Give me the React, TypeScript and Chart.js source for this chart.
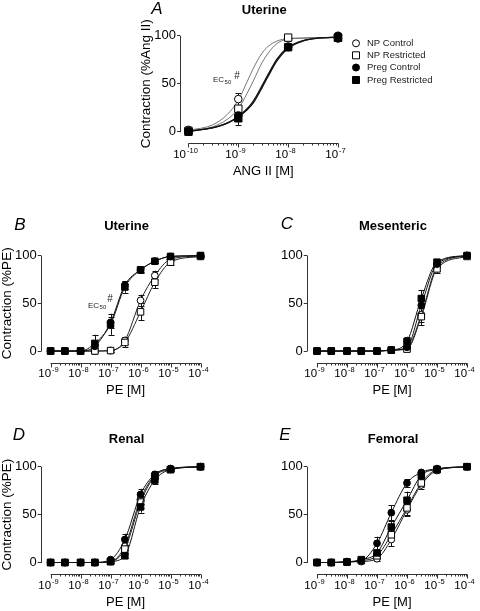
import React, { useEffect, useRef } from "react";
import { Chart, registerables } from "chart.js";
Chart.register(...registerables);

const W = 480;
const H = 611;
const FONT = '"Liberation Sans", Arial, Helvetica, sans-serif';

// ---------- data ----------
const SERIES_NAMES = ["NP Control", "NP Restricted", "Preg Control", "Preg Restricted"];
const ANG_CONC = [1e-10, 1e-9, 1e-8, 1e-7];
const PE_CONC = [1e-9, 3e-9, 1e-8, 3e-8, 1e-7, 3e-7, 1e-6, 3e-6, 1e-5, 1e-4];
const Y_TICKS = [0, 50, 100];

// Panel A - Uterine, Ang II (means and SEM)
const A_NP_CONTROL = [2, 34, 97, 97];
const A_NP_CONTROL_ERR = [1.5, 6, 1, 1.5];
const A_NP_RESTRICTED = [1, 24, 98, 98];
const A_NP_RESTRICTED_ERR = [1, 4, 1, 1];
const A_PREG_CONTROL = [0.5, 17, 88, 100];
const A_PREG_CONTROL_ERR = [1, 5, 2, 1];
const A_PREG_RESTRICTED = [0, 14, 88, 98];
const A_PREG_RESTRICTED_ERR = [1, 7, 3, 1];

// Panel A fitted curves
const A_CURVE_CONC = [1e-10, 3e-10, 6e-10, 1e-9, 1.5e-9, 2e-9, 3e-9, 4e-9, 6e-9, 1e-8, 2e-8, 4e-8, 1e-7];
const A_CURVE_NP_CONTROL = [1.5, 7, 18, 33, 52, 66, 82, 89, 94.5, 97, 97.5, 98, 98];
const A_CURVE_NP_RESTRICTED = [1, 5, 13, 24, 40, 53, 72, 82, 92, 96.5, 97.5, 98, 98];
const A_CURVE_PREG_CONTROL = [0.5, 4, 9, 16, 24, 32, 48, 60, 76, 88, 95, 97.5, 98.5];
const A_CURVE_PREG_RESTRICTED = [0.5, 4, 9, 15.5, 23, 30, 46, 58, 74, 87, 94.5, 97.5, 98.5];

// Panel B - Uterine, PE
const B_NP_CONTROL = [0, 0, 0, 0, 0.5, 11, 53, 79, 96, 99.5];
const B_NP_CONTROL_ERR = [0, 0, 0, 0.5, 1, 4, 6, 5, 2, 1];
const B_NP_RESTRICTED = [0, 0, 0, 0, 0.5, 9, 41, 72, 93, 99];
const B_NP_RESTRICTED_ERR = [0, 0, 0, 0.5, 1, 5, 9, 6, 3, 1];
const B_PREG_CONTROL = [0, 0, 0, 5, 30, 69, 85, 94, 99, 99.5];
const B_PREG_CONTROL_ERR = [0, 0, 0, 2, 6, 4, 2, 2, 1, 0.5];
const B_PREG_RESTRICTED = [0, 0, 0, 8, 28, 67, 85, 94, 99, 100];
const B_PREG_RESTRICTED_ERR = [0, 0, 0, 9, 11, 6, 3, 2, 1, 0.5];

// Panel C - Mesenteric
const C_NP_CONTROL = [0, 0, 0, 0, 0, 1, 3, 38, 88, 100];
const C_NP_CONTROL_ERR = [0, 0, 0, 0, 0, 0.5, 2, 8, 3, 0.5];
const C_NP_RESTRICTED = [0, 0, 0, 0, 0, 1, 2, 36, 86, 99];
const C_NP_RESTRICTED_ERR = [0, 0, 0, 0, 0, 0.5, 2, 9, 4, 0.5];
const C_PREG_CONTROL = [0, 0, 0, 0, 0, 1, 4, 48, 91, 100];
const C_PREG_CONTROL_ERR = [0, 0, 0, 0, 0, 0.5, 3, 8, 3, 0.5];
const C_PREG_RESTRICTED = [0, 0, 0, 0, 0, 1, 10, 55, 93, 100];
const C_PREG_RESTRICTED_ERR = [0, 0, 0, 0, 0, 0.5, 5, 9, 2, 0.5];

// Panel D - Renal
const D_NP_CONTROL = [0, 0, 0, 0, 1, 17, 66, 91, 98, 100];
const D_NP_CONTROL_ERR = [0, 0, 0, 0, 1, 4, 5, 3, 1, 0.5];
const D_NP_RESTRICTED = [0, 0, 0, 0, 1, 14, 63, 90, 97, 100];
const D_NP_RESTRICTED_ERR = [0, 0, 0, 0, 1, 4, 6, 3, 1, 0.5];
const D_PREG_CONTROL = [0, 0, 0, 0, 3, 24, 71, 92, 98, 100];
const D_PREG_CONTROL_ERR = [0, 0, 0, 0, 1.5, 6, 6, 3, 1, 0.5];
const D_PREG_RESTRICTED = [0, 0, 0, 0, 1, 7, 58, 86, 97, 100];
const D_PREG_RESTRICTED_ERR = [0, 0, 0, 0, 1, 2, 6, 4, 1, 0.5];

// Panel E - Femoral
const E_NP_CONTROL = [0, 0, 0.5, 1, 4, 24, 55, 81, 96, 100];
const E_NP_CONTROL_ERR = [0, 0, 0.5, 0.5, 2, 7, 6, 4, 2, 0.5];
const E_NP_RESTRICTED = [0, 0, 0.5, 2, 7, 29, 57, 83, 97, 100];
const E_NP_RESTRICTED_ERR = [0, 0, 0.5, 1, 3, 6, 7, 4, 2, 0.5];
const E_PREG_CONTROL = [0, 0, 1, 2, 20, 52, 83, 94, 98, 100];
const E_PREG_CONTROL_ERR = [0, 0, 0.5, 1, 7, 8, 4, 2, 1, 0.5];
const E_PREG_RESTRICTED = [0, 0, 0.5, 3, 10, 37, 65, 91, 97, 100];
const E_PREG_RESTRICTED_ERR = [0, 0, 0.5, 1, 3, 6, 9, 3, 1, 0.5];

// ---------- panel layout ----------
type Panel = {
  letter: string;
  title: string;
  conc: number[];
  values: number[][];
  errs: number[][];
  curveConc?: number[];
  curves?: number[][];
  left: number; right: number; top: number; bottom: number;
  xmin: number; firstDecade: number; lastDecade: number;
  letterX: number; letterY: number; titleY: number;
  yLabel?: string; yLabelX?: number;
  xLabel: string;
  ec50?: { x: number; y: number; hx: number; hy: number };
  legend?: { x: number; tx: number; ys: number[] };
  big?: boolean;
  curveColors: string[];
  curveWidths: number[];
};

const PANELS: Panel[] = [
  {
    letter: "A", title: "Uterine", conc: ANG_CONC,
    values: [A_NP_CONTROL, A_NP_RESTRICTED, A_PREG_CONTROL, A_PREG_RESTRICTED],
    errs: [A_NP_CONTROL_ERR, A_NP_RESTRICTED_ERR, A_PREG_CONTROL_ERR, A_PREG_RESTRICTED_ERR],
    curveConc: A_CURVE_CONC,
    curves: [A_CURVE_NP_CONTROL, A_CURVE_NP_RESTRICTED, A_CURVE_PREG_CONTROL, A_CURVE_PREG_RESTRICTED],
    left: 180, right: 338, top: 35.7, bottom: 143.3,
    xmin: Math.pow(10, -10.17), firstDecade: -10, lastDecade: -7,
    letterX: 157, letterY: 9.5, titleY: 10,
    yLabel: "Contraction (%Ang II)", yLabelX: 146,
    xLabel: "ANG II [M]",
    ec50: { x: 213, y: 80, hx: 237, hy: 76 },
    legend: { x: 356, tx: 367, ys: [43.3, 55.3, 67.5, 80] },
    big: true,
    curveColors: ["#666", "#666", "#111", "#111"],
    curveWidths: [0.9, 0.9, 1.3, 1.3],
  },
  {
    letter: "B", title: "Uterine", conc: PE_CONC,
    values: [B_NP_CONTROL, B_NP_RESTRICTED, B_PREG_CONTROL, B_PREG_RESTRICTED],
    errs: [B_NP_CONTROL_ERR, B_NP_RESTRICTED_ERR, B_PREG_CONTROL_ERR, B_PREG_RESTRICTED_ERR],
    left: 40.7, right: 200.5, top: 255.5, bottom: 362.5,
    xmin: Math.pow(10, -9.33), firstDecade: -9, lastDecade: -4,
    letterX: 20, letterY: 225.7, titleY: 226.7,
    yLabel: "Contraction (%PE)", yLabelX: 7,
    xLabel: "PE [M]",
    ec50: { x: 88, y: 305.5, hx: 110, hy: 299 },
    curveColors: ["#222", "#222", "#111", "#111"],
    curveWidths: [1, 1, 1, 1],
  },
  {
    letter: "C", title: "Mesenteric", conc: PE_CONC,
    values: [C_NP_CONTROL, C_NP_RESTRICTED, C_PREG_CONTROL, C_PREG_RESTRICTED],
    errs: [C_NP_CONTROL_ERR, C_NP_RESTRICTED_ERR, C_PREG_CONTROL_ERR, C_PREG_RESTRICTED_ERR],
    left: 306.7, right: 467, top: 255.5, bottom: 362.5,
    xmin: Math.pow(10, -9.343), firstDecade: -9, lastDecade: -4,
    letterX: 287, letterY: 224.5, titleY: 226.7,
    xLabel: "PE [M]",
    curveColors: ["#222", "#222", "#111", "#111"],
    curveWidths: [1, 1, 1, 1],
  },
  {
    letter: "D", title: "Renal", conc: PE_CONC,
    values: [D_NP_CONTROL, D_NP_RESTRICTED, D_PREG_CONTROL, D_PREG_RESTRICTED],
    errs: [D_NP_CONTROL_ERR, D_NP_RESTRICTED_ERR, D_PREG_CONTROL_ERR, D_PREG_RESTRICTED_ERR],
    left: 40.7, right: 200.5, top: 466.7, bottom: 574,
    xmin: Math.pow(10, -9.33), firstDecade: -9, lastDecade: -4,
    letterX: 19, letterY: 435.5, titleY: 439.3,
    yLabel: "Contraction (%PE)", yLabelX: 7,
    xLabel: "PE [M]",
    curveColors: ["#222", "#222", "#111", "#111"],
    curveWidths: [1, 1, 1, 1],
  },
  {
    letter: "E", title: "Femoral", conc: PE_CONC,
    values: [E_NP_CONTROL, E_NP_RESTRICTED, E_PREG_CONTROL, E_PREG_RESTRICTED],
    errs: [E_NP_CONTROL_ERR, E_NP_RESTRICTED_ERR, E_PREG_CONTROL_ERR, E_PREG_RESTRICTED_ERR],
    left: 306.7, right: 467, top: 466.7, bottom: 574,
    xmin: Math.pow(10, -9.343), firstDecade: -9, lastDecade: -4,
    letterX: 285, letterY: 435.5, titleY: 439.3,
    xLabel: "PE [M]",
    curveColors: ["#222", "#222", "#111", "#111"],
    curveWidths: [1, 1, 1, 1],
  },
];

const POINT_STYLES = ["circle", "rect", "circle", "rect"];
const POINT_FILLS = ["#ffffff", "#ffffff", "#000000", "#000000"];
const Y_AXIS_W = 40;
const X_AXIS_H = 30;
const YMIN = -12;

function drawMarker(ctx: CanvasRenderingContext2D, style: string, fill: string, x: number, y: number, size: number) {
  ctx.save();
  ctx.fillStyle = fill;
  ctx.strokeStyle = "#000";
  ctx.lineWidth = 1;
  ctx.beginPath();
  if (style === "circle") ctx.arc(x, y, size / 2, 0, Math.PI * 2);
  else ctx.rect(x - size / 2, y - size / 2, size, size);
  ctx.fill();
  ctx.stroke();
  ctx.restore();
}

function makePlugin(p: Panel) {
  return {
    id: "panelDecor" + p.letter,
    beforeDatasetsDraw(chart: any) {
      const ctx: CanvasRenderingContext2D = chart.ctx;
      const xs = chart.scales.x;
      const ys = chart.scales.y;
      ctx.save();
      ctx.strokeStyle = "#111";
      ctx.lineWidth = 1;
      p.values.forEach((vals, si) => {
        vals.forEach((v, j) => {
          const e = p.errs[si][j];
          if (!e || e < 1) return;
          const x = Math.round(xs.getPixelForValue(p.conc[j])) + 0.5;
          const y1 = ys.getPixelForValue(v + e);
          const y2 = ys.getPixelForValue(v - e);
          ctx.beginPath();
          ctx.moveTo(x, y1);
          ctx.lineTo(x, y2);
          ctx.moveTo(x - 3, Math.round(y1) + 0.5);
          ctx.lineTo(x + 3, Math.round(y1) + 0.5);
          ctx.moveTo(x - 3, Math.round(y2) + 0.5);
          ctx.lineTo(x + 3, Math.round(y2) + 0.5);
          ctx.stroke();
        });
      });
      ctx.restore();
    },
    afterDraw(chart: any) {
      const ctx: CanvasRenderingContext2D = chart.ctx;
      const xs = chart.scales.x;
      const ys = chart.scales.y;
      const area = chart.chartArea;
      ctx.save();
      ctx.strokeStyle = "#333";
      ctx.lineWidth = 1;
      // y axis line 0..100
      const ax = Math.round(area.left) + 0.5;
      ctx.beginPath();
      ctx.moveTo(ax, ys.getPixelForValue(100));
      ctx.lineTo(ax, ys.getPixelForValue(0) + 0.5);
      ctx.stroke();
      // x axis line
      const by = Math.round(area.bottom) + 0.5;
      const x0 = xs.getPixelForValue(Math.pow(10, p.firstDecade));
      const x1 = xs.getPixelForValue(Math.pow(10, p.lastDecade));
      ctx.beginPath();
      ctx.moveTo(x0, by);
      ctx.lineTo(x1 + 0.5, by);
      ctx.stroke();
      // ticks
      for (let d = p.firstDecade; d <= p.lastDecade; d++) {
        const maj = Math.round(xs.getPixelForValue(Math.pow(10, d))) + 0.5;
        ctx.beginPath();
        ctx.moveTo(maj, by);
        ctx.lineTo(maj, by + 4);
        ctx.stroke();
        if (d < p.lastDecade) {
          for (let m = 2; m <= 9; m++) {
            const mx = Math.round(xs.getPixelForValue(m * Math.pow(10, d))) + 0.5;
            ctx.beginPath();
            ctx.moveTo(mx, by);
            ctx.lineTo(mx, by + 2);
            ctx.stroke();
          }
        }
        // label 10^d
        const baseFont = `11.5px ${FONT}`;
        const supFont = `7.5px ${FONT}`;
        ctx.font = baseFont;
        const w1 = ctx.measureText("10").width;
        ctx.font = supFont;
        const exp = String(d);
        const w2 = ctx.measureText(exp).width;
        const total = w1 + 1 + w2;
        const cx = maj - 3;
        const lx = cx - total / 2;
        ctx.fillStyle = "#000";
        ctx.textBaseline = "middle";
        ctx.textAlign = "left";
        ctx.font = baseFont;
        ctx.fillText("10", lx, area.bottom + 11.5);
        ctx.font = supFont;
        ctx.fillText(exp, lx + w1 + 1, area.bottom + 7.5);
      }
      // x label
      ctx.fillStyle = "#000";
      ctx.textAlign = "center";
      ctx.textBaseline = "middle";
      ctx.font = `13px ${FONT}`;
      ctx.fillText(p.xLabel, (x0 + x1) / 2, area.bottom + 28);
      // title
      ctx.font = `bold 13px ${FONT}`;
      ctx.fillText(p.title, (x0 + x1) / 2 + 1, p.titleY);
      // letter
      ctx.font = `italic 17px ${FONT}`;
      ctx.fillText(p.letter, p.letterX, p.letterY);
      // y label
      if (p.yLabel) {
        ctx.save();
        ctx.translate(p.yLabelX || 0, (ys.getPixelForValue(0) + ys.getPixelForValue(100)) / 2);
        ctx.rotate(-Math.PI / 2);
        ctx.font = `13.5px ${FONT}`;
        ctx.fillText(p.yLabel, 0, 0);
        ctx.restore();
      }
      // EC50 annotation
      if (p.ec50) {
        ctx.textAlign = "left";
        ctx.fillStyle = "#222";
        ctx.font = `8px ${FONT}`;
        ctx.fillText("EC", p.ec50.x, p.ec50.y);
        const we = ctx.measureText("EC").width;
        ctx.font = `6px ${FONT}`;
        ctx.fillText("50", p.ec50.x + we + 0.5, p.ec50.y + 2);
        ctx.font = `10px ${FONT}`;
        ctx.textAlign = "center";
        ctx.fillText("#", p.ec50.hx, p.ec50.hy);
      }
      // legend
      if (p.legend) {
        SERIES_NAMES.forEach((name, i) => {
          const y = p.legend!.ys[i];
          drawMarker(ctx, POINT_STYLES[i], POINT_FILLS[i], p.legend!.x, y, 7);
          ctx.fillStyle = "#222";
          ctx.font = `9.5px ${FONT}`;
          ctx.textAlign = "left";
          ctx.textBaseline = "middle";
          ctx.fillText(name, p.legend!.tx, y);
        });
      }
      ctx.restore();
    },
  };
}

function buildConfig(p: Panel): any {
  const hasCurves = !!p.curves;
  const pointSets = p.values.map((vals, si) => {
    const isRect = POINT_STYLES[si] === "rect";
    const r = p.big ? (isRect ? 5.2 : 3.8) : (isRect ? 4.6 : 3.4);
    return {
      label: SERIES_NAMES[si],
      data: vals.map((v, j) => ({ x: p.conc[j], y: v })),
      showLine: !hasCurves,
      cubicInterpolationMode: "monotone",
      borderColor: p.curveColors[si],
      borderWidth: p.curveWidths[si],
      pointStyle: POINT_STYLES[si],
      pointRadius: r,
      pointBackgroundColor: POINT_FILLS[si],
      pointBorderColor: "#000",
      pointBorderWidth: 1,
      clip: false,
      order: 4 - si,
    };
  });
  const curveSets = hasCurves
    ? p.curves!.map((vals, si) => ({
        label: SERIES_NAMES[si] + " fit",
        data: vals.map((v, j) => ({ x: p.curveConc![j], y: v })),
        showLine: true,
        cubicInterpolationMode: "monotone",
        borderColor: p.curveColors[si],
        borderWidth: p.curveWidths[si],
        pointRadius: 0,
        clip: false,
        order: 10 - si,
      }))
    : [];
  const decades: number[] = [];
  for (let d = p.firstDecade; d <= p.lastDecade; d++) decades.push(Math.pow(10, d));
  return {
    type: "line",
    data: { datasets: [...curveSets, ...pointSets] },
    plugins: [makePlugin(p)],
    options: {
      animation: false,
      responsive: false,
      events: [],
      layout: {
        padding: {
          left: p.left - Y_AXIS_W,
          top: p.top,
          right: W - p.right,
          bottom: H - p.bottom - X_AXIS_H,
        },
      },
      plugins: { legend: { display: false }, tooltip: { enabled: false }, title: { display: false } },
      scales: {
        x: {
          type: "logarithmic",
          min: p.xmin,
          max: Math.pow(10, p.lastDecade),
          afterBuildTicks: (s: any) => { s.ticks = decades.map((v) => ({ value: v })); },
          afterFit: (s: any) => { s.height = X_AXIS_H; },
          ticks: { display: false },
          grid: { display: false },
          border: { display: false },
        },
        y: {
          type: "linear",
          min: YMIN,
          max: 100,
          afterBuildTicks: (s: any) => { s.ticks = Y_TICKS.map((v) => ({ value: v })); },
          afterFit: (s: any) => { s.width = Y_AXIS_W; },
          ticks: { font: { family: FONT, size: 13 }, color: "#000", padding: 1 },
          grid: { drawOnChartArea: false, drawTicks: true, tickLength: 3, color: "#333", tickColor: "#333" },
          border: { display: false },
        },
      },
    },
  };
}

export default function App() {
  const refs = useRef<(HTMLCanvasElement | null)[]>([]);
  useEffect(() => {
    const charts = PANELS.map((p, i) => new Chart(refs.current[i] as HTMLCanvasElement, buildConfig(p)));
    return () => { charts.forEach((c) => c.destroy()); };
  }, []);
  return (
    <div style={{ position: "absolute", left: 0, top: 0, width: W, height: H, background: "#fff" }}>
      {PANELS.map((p, i) => (
        <canvas
          key={p.letter}
          ref={(el) => { refs.current[i] = el; }}
          width={W}
          height={H}
          style={{ position: "absolute", left: 0, top: 0, width: W, height: H }}
        />
      ))}
    </div>
  );
}
